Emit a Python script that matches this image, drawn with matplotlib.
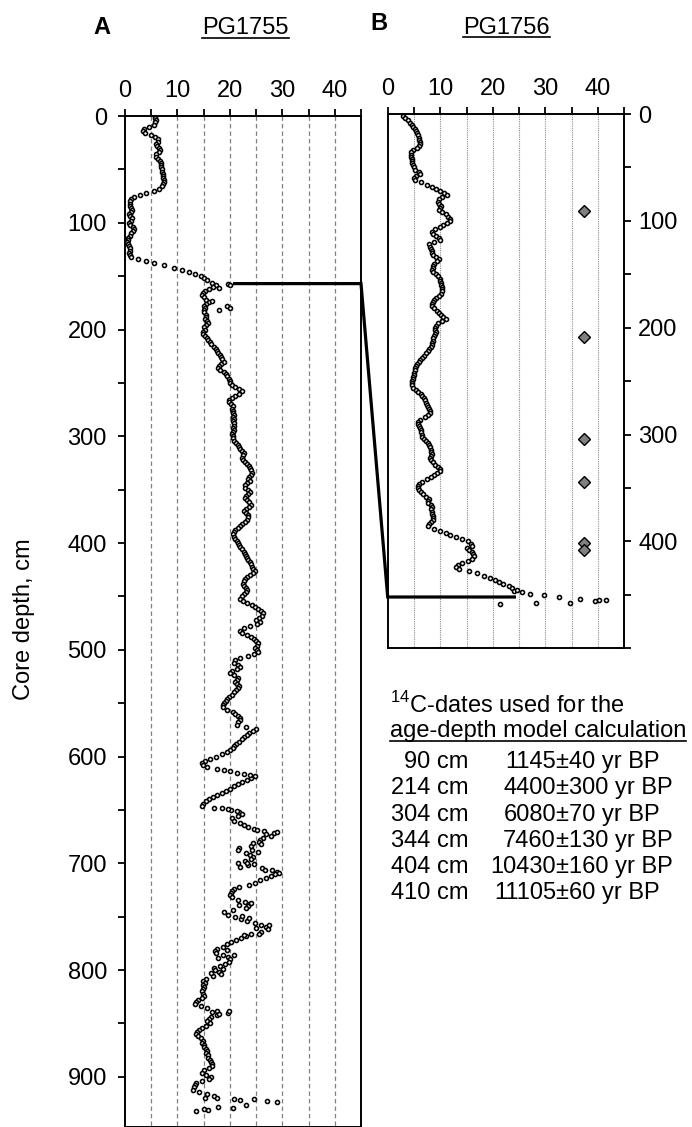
import numpy as np
import matplotlib
matplotlib.use("Agg")
import matplotlib.pyplot as plt
from matplotlib.lines import Line2D

plt.rcParams['font.family'] = ['Liberation Sans', 'DejaVu Sans']
plt.rcParams['mathtext.fontset'] = 'custom'
plt.rcParams['mathtext.rm'] = 'Liberation Sans'

# ---- data ----
# PG1755, one value every 2 cm starting at 0 cm
pct_a = [
    5.8, 5.8, 5.9, 5.8, 5.5, 4.6, 3.6, 3.4, 3.8, 5.0,        # 0
    5.8, 6.3, 6.2, 6.0, 6.1, 6.5, 6.6, 6.4, 6.0, 5.9,        # 20
    6.3, 6.6, 6.8, 6.8, 6.9, 7.0, 7.1, 7.2, 7.3, 7.3,        # 40
    7.4, 7.4, 7.3, 7.0, 6.5, 5.5, 4.0, 2.8, 1.8, 1.2,        # 60
    1.0, 0.9, 1.0, 1.2, 1.3, 1.1, 0.8, 1.0, 1.4, 1.2,        # 80
    0.8, 1.0, 1.6, 1.8, 1.5, 1.2, 0.9, 0.6, 0.5, 0.4,        # 100
    0.6, 0.8, 0.9, 0.9, 0.8, 0.9, 1.2, 2.5, 4.0, 5.5,        # 120
    7.5, 9.3, 10.8, 12.2, 13.4, 14.5, 15.0, 15.6, 16.5, 17.3,  # 140
    16.8, 16.0, 15.3, 14.8, 14.7, 15.0, 15.4, 16.0, 15.5, 15.0,  # 160
    15.2, 15.0, 15.1, 15.4, 15.5, 15.2, 15.6, 15.8, 15.4, 15.0,  # 180
    15.2, 14.9, 14.8, 15.3, 15.6, 15.9, 16.2, 16.4, 16.9, 17.3,  # 200
    17.6, 17.8, 18.1, 18.3, 18.5, 18.8, 18.4, 18.0, 17.8, 18.2,  # 220
    18.8, 19.2, 19.5, 19.8, 20.0, 20.1, 20.4, 20.9, 21.8, 22.4,  # 240
    21.8, 21.0, 20.4, 19.9, 19.8, 20.2, 20.5, 20.4, 20.6, 20.5,  # 260
    20.7, 20.5, 20.8, 20.6, 20.8, 20.7, 20.5, 20.8, 20.6, 20.4,  # 280
    20.6, 20.5, 20.8, 21.2, 21.6, 21.8, 22.0, 22.4, 22.7, 22.5,  # 300
    22.3, 22.5, 22.8, 23.2, 23.6, 23.9, 24.1, 24.2, 24.0, 23.7,  # 320
    23.4, 23.8, 23.2, 22.8, 22.9, 23.5, 23.9, 23.5, 23.0, 22.8,  # 340
    23.2, 23.6, 24.0, 23.7, 23.0, 22.6, 23.0, 23.4, 23.5, 23.2,  # 360
    22.8, 22.4, 22.0, 21.5, 21.0, 20.7, 20.6, 20.8, 21.0, 21.3,  # 380
    21.5, 21.8, 22.0, 22.3, 22.6, 22.8, 23.0, 23.3, 23.5, 23.8,  # 400
    24.1, 24.3, 24.5, 24.7, 24.4, 23.8, 23.2, 22.9, 22.6, 22.5,  # 420
    22.7, 23.0, 23.2, 23.0, 22.6, 22.3, 22.0, 22.5, 23.3, 24.2,  # 440
    24.8, 25.3, 26.0, 26.4, 26.2, 25.6, 25.0, 25.8, 25.2, 23.9,  # 460
    22.6, 21.9, 22.3, 23.2, 24.0, 24.6, 25.0, 25.4, 25.2, 24.8,  # 480
    25.1, 25.3, 24.6, 23.5, 22.0, 20.9, 20.7, 21.5, 22.0, 21.3,  # 500
    20.4, 20.0, 20.8, 21.6, 21.4, 21.0, 21.3, 21.8, 21.6, 21.2,  # 520
    20.8, 20.4, 19.9, 19.5, 19.2, 18.8, 18.6, 18.6, 19.4, 20.5,  # 540
    21.0, 21.5, 21.9, 22.0, 21.6, 21.3, 23.0, 25.0, 24.5, 23.6,  # 560
    23.2, 22.7, 22.3, 21.8, 21.2, 20.8, 20.5, 20.0, 19.4, 18.5,  # 580
    17.3, 16.2, 15.2, 14.6, 14.8, 15.6, 17.5, 20.0, 22.6, 24.8,  # 600
    24.0, 23.2, 22.4, 21.6, 20.8, 20.0, 19.2, 18.5, 17.6, 16.8,  # 620
    16.0, 15.4, 14.8, 14.6, 17.0, 20.2, 21.8, 22.4, 21.6, 20.4,  # 640
    20.8, 21.9, 22.6, 23.4, 24.6, 26.5, 28.4, 27.8, 26.4, 25.8,  # 660
    25.6, 25.9, 24.0, 21.8, 21.5, 23.0, 23.8, 24.5, 24.0, 22.8,  # 680
    21.6, 23.5, 26.2, 28.0, 29.0, 28.6, 27.8, 26.8, 25.8, 24.8,  # 700
    23.6, 21.8, 20.8, 20.4, 20.2, 20.0, 20.4, 21.6, 22.8, 23.6,  # 720
    23.5, 23.0, 20.5, 18.8, 19.6, 21.0, 22.2, 23.3, 24.8, 26.0,  # 740
    26.8, 27.2, 26.0, 24.0, 23.0, 22.2, 21.2, 20.3, 19.5, 18.6,  # 760
    17.6, 17.2, 17.4, 18.6, 19.6, 20.0, 19.8, 19.0, 18.2, 17.0,  # 780
    17.2, 18.0, 18.4, 16.8, 15.4, 14.9, 15.2, 14.8, 15.1, 14.9,  # 800
    14.6, 14.8, 15.0, 14.6, 14.0, 13.5, 13.4, 14.4, 15.6, 17.5,  # 820
    19.6, 17.6, 16.4, 16.0, 15.6, 16.2, 15.4, 14.6, 14.2, 13.8,  # 840
    13.6, 14.0, 14.4, 14.8, 14.6, 15.0, 15.1, 15.4, 15.6, 15.4,  # 860
    15.8, 15.9, 16.2, 16.4, 16.6, 16.6, 16.0, 15.0, 14.6, 15.4,  # 880
    16.4, 16.0, 14.6, 13.6, 13.4, 13.1, 13.0, 14.2, 15.6, 17.0,  # 900
    17.5, 22.0, 29.0, 23.0, 17.8, 15.0, 13.6,                  # 920
]
depth_a = np.arange(0, 2 * len(pct_a), 2)

# scattered extra samples of PG1755 (depth, value)
extra_a_depth = [157, 158.5, 161, 173, 178, 180, 181.5, 613, 615, 617, 648, 649, 651,
                 669, 671, 673, 681, 688, 689, 700, 701, 703, 706, 709, 737, 739, 749,
                 751, 758, 761, 766, 767, 781, 786, 789, 799, 803, 838, 839, 841,
                 919.5, 920.5, 921, 922.5, 929, 931]
extra_a_pct = [19.6, 20.1, 18.0, 16.6, 19.4, 20.0, 17.9, 18.8, 21.3, 23.8, 18.5, 19.6, 21.4,
               25.2, 29.0, 26.8, 24.5, 24.2, 25.4, 23.2, 24.6, 22.0, 26.6, 29.4, 24.0, 21.8, 22.4,
               23.6, 27.4, 25.0, 25.6, 22.6, 19.4, 20.8, 17.8, 18.6, 16.4, 19.8, 16.6, 18.0,
               15.2, 20.7, 24.6, 27.1, 20.5, 15.8]

# PG1756, one value every 2 cm starting at 2 cm
pct_b = [
    2.9, 3.3, 3.8, 4.2, 4.6, 4.9, 5.2, 5.4, 5.6, 5.8,        # 2
    5.9, 6.0, 6.1, 6.2, 6.0, 5.5, 4.8, 4.5, 4.4, 4.5,        # 22
    4.6, 4.6, 4.7, 4.9, 5.0, 5.2, 6.0, 6.1, 5.3, 5.0,        # 42
    5.2, 6.4, 7.4, 8.4, 9.2, 10.0, 10.8, 11.3, 10.4, 9.8,    # 62
    9.6, 9.8, 10.2, 10.0, 9.8, 10.4, 11.0, 11.4, 11.8, 11.8,  # 82
    11.2, 10.6, 10.0, 9.0, 8.4, 8.6, 9.2, 9.8, 10.0, 8.8,    # 102
    7.8, 8.0, 8.2, 8.4, 8.4, 8.6, 9.2, 9.7, 9.4, 8.9,        # 122
    8.6, 8.6, 8.5, 8.7, 9.2, 9.6, 10.0, 10.0, 10.1, 10.2,    # 142
    10.3, 10.4, 10.3, 10.2, 9.7, 9.2, 8.9, 8.6, 8.4, 8.4,    # 162
    8.8, 9.4, 9.8, 10.2, 10.6, 11.0, 10.4, 9.6, 9.2, 9.0,    # 182
    9.0, 9.1, 9.0, 8.8, 8.7, 8.6, 8.5, 8.4, 8.2, 7.9,        # 202
    7.6, 7.3, 6.9, 6.6, 6.2, 5.9, 5.6, 5.3, 5.2, 5.1,        # 222
    5.0, 5.0, 4.9, 4.8, 4.7, 4.6, 4.6, 4.9, 5.3, 5.8,        # 242
    6.3, 6.6, 6.9, 7.0, 7.2, 7.4, 7.6, 7.8, 8.0, 8.0,        # 262
    7.6, 7.0, 6.2, 5.8, 5.8, 6.0, 6.2, 6.3, 6.4, 6.5,        # 282
    6.6, 6.9, 7.3, 7.6, 7.9, 8.1, 8.2, 8.3, 8.4, 8.3,        # 302
    8.1, 8.2, 8.6, 9.0, 9.5, 10.0, 9.9, 9.4, 8.8, 8.2,       # 322
    7.4, 6.5, 5.9, 5.7, 5.8, 6.0, 6.4, 6.8, 7.3, 7.8,        # 342
    7.6, 7.7, 8.2, 8.4, 8.3, 8.4, 8.5, 8.6, 8.7, 8.6,        # 362
    8.2, 7.8, 7.6, 8.8, 10.0, 11.0, 11.9, 13.0, 14.2, 15.3,  # 382
    15.9, 16.0, 15.0, 15.4, 16.0, 16.3, 16.4, 16.0, 15.2, 14.2,  # 402
    13.4, 12.9, 13.6, 15.4, 17.0, 18.4, 19.5, 20.4, 21.2, 22.0,  # 422
    23.0, 23.6, 24.0,                                         # 442
]
depth_b = np.arange(2, 2 + 2 * len(pct_b), 2)

extra_b_depth = [445, 447.3, 448.8, 450.4, 452, 453.5, 455, 454.4, 458.2, 457.3, 457.3, 455.8]
extra_b_pct = [24.6, 25.5, 27.1, 29.7, 32.5, 36.6, 40.1, 41.6, 21.4, 28.2, 34.7, 39.5]

# 14C dates
date_depth = [90, 214, 304, 344, 404, 410]
date_age = [1145, 4400, 6080, 7460, 10430, 11105]
date_err = [40, 300, 70, 130, 160, 60]
date_mark_depth = [91, 209, 304, 344, 401, 408]
date_mark_x = 37.4

# tie line between the cores
tie_a_depth, tie_a_x = 157, 20.6
tie_b_depth, tie_b_x = 452, 24.4

# ---- figure ----
W, H = 692, 1127
fig = plt.figure(figsize=(W / 100, H / 100), dpi=100)


def fx(x):
    return x / W


def fy(y):
    return 1 - y / H


FS = 17
ax_a = fig.add_axes([fx(125), fy(1127), (361 - 125) / W, (1127 - 116) / H])
ax_b = fig.add_axes([fx(387.7), fy(648.3), (624.3 - 387.7) / W, (648.3 - 114) / H])

ax_a.set_ylim(947, 0)
ax_b.set_ylim(500, 0)

for ax in (ax_a, ax_b):
    ax.set_xlim(0, 45)
    ax.xaxis.tick_top()
    ax.set_xticks(np.arange(0, 41, 10))
    ax.set_xticks(np.arange(5, 46, 10), minor=True)
    ax.tick_params(which='both', direction='out', length=5, width=1.3,
                   labelsize=FS, colors='black')
    ax.tick_params(axis='x', which='both', pad=5)
    for s in ax.spines.values():
        s.set_linewidth(1.4)

ax_a.set_yticks(np.arange(0, 901, 100))
ax_a.set_yticks(np.arange(50, 947, 100), minor=True)
ax_a.tick_params(axis='y', which='both', pad=8)

ax_b.yaxis.tick_right()
ax_b.set_yticks(np.arange(0, 401, 100))
ax_b.set_yticks(list(np.arange(50, 451, 100)) + [500], minor=True)
ax_b.tick_params(axis='y', which='both', pad=5)

# grid lines
ax_a.vlines(np.arange(5, 41, 5), 0, 947, colors='#7f7f7f',
            linestyles=(0, (3.5, 2.5)), lw=0.9, zorder=0)
ax_b.vlines(np.arange(5, 41, 5), 0, 500, colors='#8c8c8c',
            linestyles=(0, (1, 1)), lw=0.8, zorder=0)

mk = dict(marker='o', ls='none', ms=2.9, mfc='white', mec='black', mew=1.15)
ax_a.plot(pct_a, depth_a, **mk)
ax_a.plot(extra_a_pct, extra_a_depth, **mk)
ax_b.plot(pct_b, depth_b, **mk)
ax_b.plot(extra_b_pct, extra_b_depth, **mk)

ax_b.plot([date_mark_x] * len(date_mark_depth), date_mark_depth, 'D', ms=6,
          mfc='#808080', mec='black', mew=1.0, zorder=5)

# tie line drawn in figure coordinates
pts = [ax_a.transData.transform((tie_a_x, tie_a_depth)),
       ax_a.transData.transform((45, tie_a_depth)),
       ax_b.transData.transform((0, tie_b_depth)),
       ax_b.transData.transform((tie_b_x, tie_b_depth))]
pts = fig.transFigure.inverted().transform(np.array(pts))
fig.add_artist(Line2D(pts[:, 0], pts[:, 1], transform=fig.transFigure, color='black',
                      lw=2.3, solid_joinstyle='miter', solid_capstyle='butt', zorder=10))

# texts
fig.text(fx(93), fy(33.5), 'A', fontsize=FS, fontweight='bold', va='baseline')
fig.text(fx(370), fy(30.5), 'B', fontsize=FS, fontweight='bold', va='baseline')
t1 = fig.text(fx(202), fy(34.5), 'PG1755', fontsize=FS, va='baseline')
t2 = fig.text(fx(463), fy(33.5), 'PG1756', fontsize=FS, va='baseline')
fig.text(fx(24), fy(619), 'Core depth, cm', fontsize=FS, rotation=90,
         ha='center', va='center')

fig.text(fx(390), fy(713), r'$^{\mathregular{14}}$C-dates used for the', fontsize=FS,
         va='baseline')
t3 = fig.text(fx(390), fy(737.5), 'age-depth model calculation', fontsize=FS, va='baseline')

row_y = 768
for d, a, e in zip(date_depth, date_age, date_err):
    fig.text(fx(468), fy(row_y), f'{d} cm', fontsize=FS, ha='right', va='baseline')
    fig.text(fx(556), fy(row_y), f'{a}', fontsize=FS, ha='right', va='baseline')
    fig.text(fx(556), fy(row_y), f'±{e} yr BP', fontsize=FS, ha='left', va='baseline')
    row_y += 26.3

# underlines
fig.canvas.draw()
renderer = fig.canvas.get_renderer()
for t, base in ((t1, 34.5), (t2, 33.5), (t3, 737.5)):
    bb = t.get_window_extent(renderer)
    yl = fy(base + 3.8)
    fig.add_artist(Line2D([bb.x0 / W, bb.x1 / W], [yl, yl], transform=fig.transFigure,
                          color='black', lw=1.2))

fig.savefig('out.png', dpi=100)
